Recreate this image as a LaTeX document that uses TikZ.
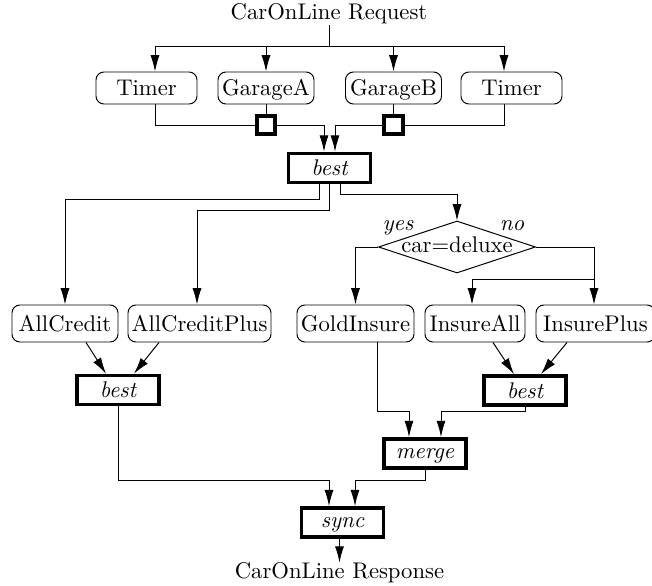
\documentclass[tikz,border=0pt]{standalone}
\usetikzlibrary{arrows.meta,shapes.geometric}
\def\u{0.4545pt}
\AtBeginDocument{\fontsize{10.3}{12.4}\selectfont}
\tikzset{
  x=\u, y=-\u,
  thinline/.style={line width=0.45pt},
  wire/.style={thinline,draw=black},
  arr/.style={wire,-{Latex[length=7.4pt,width=4.1pt]}},
  svc/.style={draw,thinline,rounded corners=3.6pt,inner sep=0pt,minimum height=32*\u,text height=6.83pt,text depth=0pt},
  svcl/.style={svc,minimum height=37*\u},
  pat/.style={draw,line width=1.7pt,inner sep=0pt,minimum width=82*\u,minimum height=29*\u,text height=6.94pt,text depth=0pt,font=\itshape},
  patx/.style={pat,text height=4.3pt},
  gate/.style={draw,line width=1.7pt,inner sep=0pt,minimum width=18.5*\u,minimum height=18.5*\u},
  choice/.style={draw,thinline,diamond,aspect=3,inner sep=0pt,minimum width=157*\u,minimum height=52*\u,text height=5.2pt,text depth=0pt},
  lab/.style={inner sep=0pt,anchor=base},
}
\begin{document}
\begin{tikzpicture}
\useasboundingbox (0,0) rectangle (652,586);
\fill[white] (0,0) rectangle (652,586);
\clip (0,0) rectangle (652,586);
% nodes
\node[lab] (req) at (329,20) {CarOnLine Request};
\node[svc,minimum width=101*\u] (t1) at (146.5,88) {Timer};
\node[svc,minimum width=96*\u] (ga) at (266,88) {GarageA};
\node[svc,minimum width=96*\u] (gb) at (393.5,88) {GarageB};
\node[svc,minimum width=101*\u] (t2) at (511.5,88) {Timer};
\node[gate] (sa) at (266,125) {};
\node[gate] (sb) at (393.5,125) {};
\node[pat] (b0) at (329.5,168) {best};
\node[choice] (d) at (457,247) {car=deluxe};
\node[lab,font=\itshape] (yes) at (398,231) {yes};
\node[lab,font=\itshape] (no) at (512,231) {no};
\node[svcl,minimum width=106*\u] (ac) at (65,323.5) {AllCredit};
\node[svcl,minimum width=143*\u] (acp) at (199.5,323.5) {AllCreditPlus};
\node[svcl,minimum width=117*\u] (gi) at (355.5,323.5) {GoldInsure};
\node[svcl,minimum width=100*\u] (ia) at (475,323.5) {InsureAll};
\node[svcl,minimum width=119*\u] (ip) at (595.5,323.5) {InsurePlus};
\node[pat] (b1) at (118,390) {best};
\node[pat] (b2) at (525,390.5) {best};
\node[patx] (m) at (425,453.5) {merge};
\node[patx] (s) at (342.5,522.5) {sync};
\node[lab] (resp) at (339.5,579) {CarOnLine Response};
% request fan-out
\coordinate (bus) at (req.south |- 0,46);
\draw[wire] (req.south) -- (bus);
\draw[arr] (bus) -| ([xshift=8.5*\u]t1.north);
\draw[arr] (bus) -| (ga.north);
\draw[arr] (bus) -| (gb.north);
\draw[arr] (bus) -| ([xshift=-7.5*\u]t2.north);
% into first best
\draw[wire] ([xshift=8.5*\u]t1.south) |- (sa.west);
\draw[wire] (ga.south) -- (sa.north);
\draw[wire] (gb.south) -- (sb.north);
\draw[wire] ([xshift=-7.5*\u]t2.south) |- (sb.east);
\draw[arr] (sa.east) -| ([xshift=-5.5*\u]b0.north);
\draw[arr] (sb.west) -| ([xshift=5.5*\u]b0.north);
% out of first best
\coordinate (l1) at (0,199);
\coordinate (l2) at (0,210);
\coordinate (l3) at (0,194);
\draw[arr] ([xshift=-10.5*\u]b0.south) |- (l1 -| ac.north) -- (ac.north);
\draw[arr] (b0.south) |- ([xshift=-2.5*\u]acp.north |- l2) -- ([xshift=-2.5*\u]acp.north);
\draw[arr] ([xshift=10.5*\u]b0.south) |- (l3 -| d.north) -- (d.north);
% decision
\draw[arr] (d.west) -| (gi.north);
\draw[arr] (d.east) -| ([xshift=-1.5*\u]ip.north);
\coordinate (l4) at (0,279);
\draw[arr] ([xshift=-1.5*\u]ip.north |- l4) -| ([xshift=-3*\u]ia.north);
% into lower bests
\draw[arr] ([xshift=21*\u]ac.south) -- ([xshift=-12*\u]b1.north);
\draw[arr] ([xshift=-40.5*\u]acp.south) -- ([xshift=16*\u]b1.north);
\draw[arr] ([xshift=18*\u]ia.south) -- ([xshift=-11*\u]b2.north);
\draw[arr] ([xshift=-28.5*\u]ip.south) -- ([xshift=16*\u]b2.north);
% merge
\coordinate (l5) at (0,411);
\draw[arr] ([xshift=21.5*\u]gi.south) |- ([xshift=-16*\u]m.north |- l5) -- ([xshift=-16*\u]m.north);
\draw[arr] (b2.south) |- ([xshift=16*\u]m.north |- l5) -- ([xshift=16*\u]m.north);
% sync
\coordinate (l6) at (0,480);
\draw[arr] (b1.south) |- ([xshift=-13.5*\u]s.north |- l6) -- ([xshift=-13.5*\u]s.north);
\draw[arr] (m.south) |- ([xshift=12.5*\u]s.north |- l6) -- ([xshift=12.5*\u]s.north);
\draw[arr] (s.south -| resp.north) -- (resp.north);
\end{tikzpicture}
\end{document}
